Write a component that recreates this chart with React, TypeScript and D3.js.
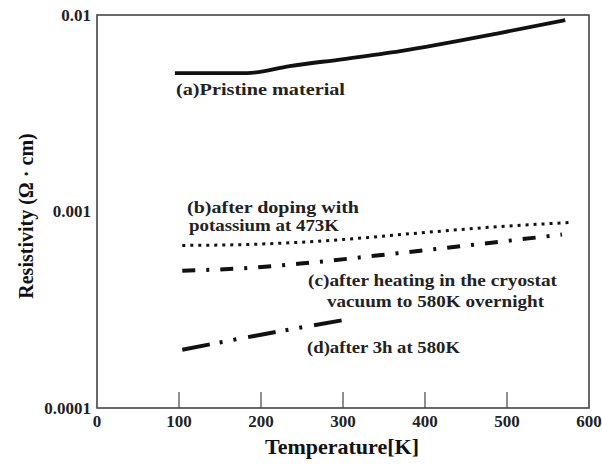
import * as d3 from "d3";

// temperature (K) / resistivity (ohm cm)
const pristineT = [95, 183, 235, 301, 370, 491, 571];
const pristineR = [0.00506, 0.00506, 0.0055, 0.00597, 0.00655, 0.00809, 0.00942];

const dopedT = [104, 180, 300, 370, 491, 575];
const dopedR = [0.000672, 0.000679, 0.00072, 0.000763, 0.000838, 0.000878];

const heatedT = [104, 170, 248, 363, 567];
const heatedR = [0.0005, 0.000512, 0.000543, 0.000611, 0.000763];

const after3hT = [104, 200, 302];
const after3hR = [0.000198, 0.000236, 0.000281];

const xTicks = [0, 100, 200, 300, 400, 500, 600];
const yTicks = [0.0001, 0.001, 0.01];
const yTickLabels = ["0.0001", "0.001", "0.01"];

const xTitle = "Temperature[K]";
const yTitle = "Resistivity (Ω · cm)";

const annotations = [
    { text: "(a)Pristine material", x: 176, y: 89, w: 169 },
    { text: "(b)after doping with", x: 187, y: 207, w: 172 },
    { text: "potassium at 473K", x: 189, y: 225, w: 150 },
    { text: "(c)after heating in the cryostat", x: 308, y: 280, w: 249 },
    { text: "vacuum to 580K overnight", x: 327, y: 301, w: 217 },
    { text: "(d)after 3h at 580K", x: 307, y: 347, w: 153 },
];

const font = "Liberation Serif, Times New Roman, serif";

export default function App() {
    const size = { x: 602, y: 466 };
    const plot = { left: 97, right: 589, top: 15, bottom: 408 };

    const xScale = d3.scaleLinear([0, 600], [plot.left, plot.right]);
    const yScale = d3.scaleLog([0.0001, 0.01], [plot.bottom, plot.top]);

    const line = d3.line<[number, number]>()
        .x(d => xScale(d[0]))
        .y(d => yScale(d[1]))
        .curve(d3.curveMonotoneX);

    const series = [
        { t: pristineT, r: pristineR, dash: "none", width: 3.8 },
        { t: dopedT, r: dopedR, dash: "3,5", width: 3 },
        { t: heatedT, r: heatedR, dash: "13,11,3,11", width: 4 },
        { t: after3hT, r: after3hR, dash: "28,10,3,11,3,12", width: 4 },
    ];

    return (
        <svg width={size.x} height={size.y} viewBox={`0 0 ${size.x} ${size.y}`}
            style={{ position: "absolute", left: 0, top: 0, background: "#fff", fontFamily: font }}>
            {/* frame */}
            <rect x={plot.left} y={plot.top} width={plot.right - plot.left} height={plot.bottom - plot.top}
                fill="none" stroke="#444" strokeWidth={1.6} />

            {/* inward bottom ticks */}
            {xTicks.slice(1, -1).map(t => (
                <line key={t} x1={xScale(t)} x2={xScale(t)} y1={plot.bottom} y2={plot.bottom - 16}
                    stroke="#444" strokeWidth={1.2} />
            ))}

            {xTicks.map(t => (
                <text key={t} x={xScale(t)} y={421} dy="0.35em" textAnchor="middle"
                    fontWeight="bold" fontSize={17} fill="#222">{t}</text>
            ))}

            {yTicks.map((t, i) => (
                <text key={t} x={plot.left - 6} y={yScale(t)} dy="0.35em" textAnchor="end"
                    fontWeight="bold" fontSize={17} fill="#222">{yTickLabels[i]}</text>
            ))}

            <text x={342} y={447} dy="0.35em" textAnchor="middle" fontWeight="bold"
                fontSize={21} fill="#111" textLength={154} lengthAdjust="spacingAndGlyphs">{xTitle}</text>
            <text transform={`translate(26, 216) rotate(-90)`} dy="0.35em" textAnchor="middle"
                fontWeight="bold" fontSize={20} fill="#111">{yTitle}</text>

            <g id="curves">
                {series.map((s, i) => (
                    <path key={i} d={line(s.t.map((t, j) => [t, s.r[j]] as [number, number])) ?? ""}
                        fill="none" stroke="#111" strokeWidth={s.width} strokeDasharray={s.dash} />
                ))}
            </g>

            <g id="annotations">
                {annotations.map((a, i) => (
                    <text key={i} x={a.x} y={a.y} dy="0.35em" fontWeight="bold"
                        fontSize={17} fill="#222" textLength={a.w} lengthAdjust="spacingAndGlyphs">{a.text}</text>
                ))}
            </g>
        </svg>
    );
}
